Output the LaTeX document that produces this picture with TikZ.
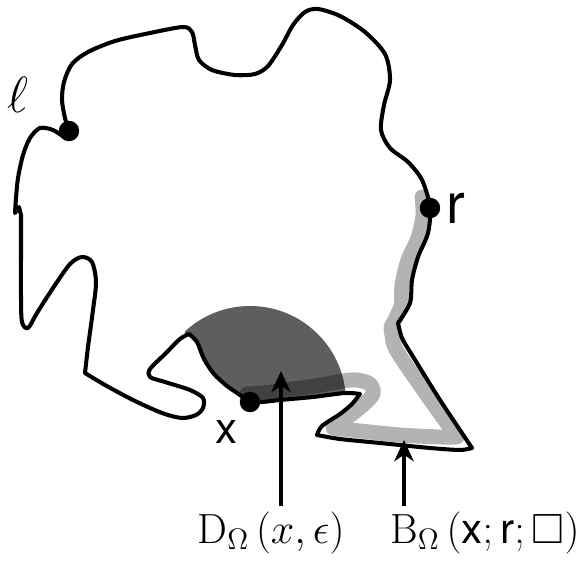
\RequirePackage{fix-cm}
\documentclass[tikz,border=0pt]{standalone}
\usepackage{fontspec}
\setsansfont{TeX Gyre Heros}
\usepackage{amssymb}
\usetikzlibrary{arrows.meta, positioning}
\definecolor{bandgray}{RGB}{179, 179, 179}
\definecolor{diskgray}{RGB}{0, 0, 0}

% piece of the boundary from the tip right of x, through x, up to the lobe
\def\xpart{(360,394) (345,393) (313,397) (280,400) (262,402) (250,402)
  (240,395) (227,386) (214,374) (204,359) (197,342) (189,334)}

\begin{document}
\begin{tikzpicture}[x=0.02cm, y=-0.02cm,
    boundary/.style={line width=2.3pt, line join=round},
    band/.style={bandgray, line width=8.5pt, line cap=round, line join=round},
    dot/.style={circle, fill=black, inner sep=0pt, minimum size=0.41cm},
    biglabel/.style={font=\fontsize{24}{28}\selectfont},
    pointer/.style={line width=2pt, -{Stealth[length=12pt, width=11pt, inset=3.5pt]}}]
  \useasboundingbox (0,0) rectangle (583,561);

  % gray band from r to x
  \draw[band] plot[smooth] coordinates {(422,197) (423,215) (418,238) (408,260)
      (402,285) (401,306) (391,327)}
    -- plot[smooth] coordinates {(391,327) (394,345) (404,362) (434,405) (457,437)}
    -- plot[smooth] coordinates {(457,437) (440,437) (400,435) (360,431) (333,428)}
    -- plot[smooth] coordinates {(333,428) (348,417) (363,405) (373,394) (370,384)
      (357,380) (343,381) (315,386) (285,390) (262,393) (247,394)};

  % dark part of the disk around x
  \begin{scope}
    \clip plot[smooth] coordinates {\xpart} -- (185,334) -- (185,250)
      -- (370,250) -- cycle;
    \fill[diskgray, opacity=.63] (250,402) circle[radius=96];
  \end{scope}

  % the boundary curve
  \draw[boundary] plot[smooth] coordinates {(69,131) (65,118) (62,100) (64,82)
      (72,64) (88,52) (115,41) (150,33) (183,27) (192,32) (195,45) (199,60)
      (212,70) (235,75) (255,74) (268,66) (282,45) (293,25) (305,12) (318,9)
      (340,16) (365,32) (385,54) (390,80) (384,105) (381,130) (390,148)
      (408,162) (422,180) (430,207) (428,233) (418,257) (412,280) (410,303)
      (398,323)}
    -- plot[smooth] coordinates {(398,323) (402,338) (412,355) (440,400) (472,448)}
    -- plot[smooth] coordinates {(472,448) (460,450) (430,448) (380,443)
      (340,439) (317,435)}
    -- plot[smooth] coordinates {(317,435) (322,426) (340,414) (352,404) (360,394)}
    -- plot[smooth] coordinates {\xpart}
    -- plot[smooth] coordinates {(189,334) (180,339) (165,354) (150,369) (150,377)
      (165,382) (190,390) (203,398) (203,408) (196,415) (182,418) (162,413)
      (133,400) (105,385) (85,373)}
    -- plot[smooth] coordinates {(85,373) (88,347) (93,310) (96,282) (92,262)
      (82,257) (70,264) (53,288) (37,313) (28,328) (22,322) (21,297) (21,250)
      (21,215)}
    -- (19,207) -- (15,213)
    -- plot[smooth] coordinates {(15,213) (16,198) (18,178) (23,155) (30,138)
      (40,128) (53,130) (65,137) (69,131)}
    -- cycle;

  % marked points
  \node[dot] (l) at (69,131) {};
  \node[dot] (r) at (430,208) {};
  \node[dot] (x) at (250,402) {};
  \node (lname) at (18,95) {\fontsize{29}{32}\selectfont$\ell$};
  \node[right=0pt of r] (rname) {\fontsize{32}{34}\selectfont\sffamily r};
  \node (xname) at (226,432) {\fontsize{25}{28}\selectfont\sffamily x};

  % labels and arrows
  \coordinate (dtip) at (281,371);
  \coordinate (btip) at (404,440);
  \node[biglabel] (dlab) at (271,533) {$\mathrm{D}_{\Omega}\,(x,\epsilon)$};
  \node[biglabel] (blab) at (485,533) {$\mathrm{B}_{\Omega}\,(\textsf{x};\textsf{r};\square)$};
  \draw[pointer] (dlab.north -| dtip) -- (dtip);
  \draw[pointer] (blab.north -| btip) -- (btip);
\end{tikzpicture}
\end{document}
